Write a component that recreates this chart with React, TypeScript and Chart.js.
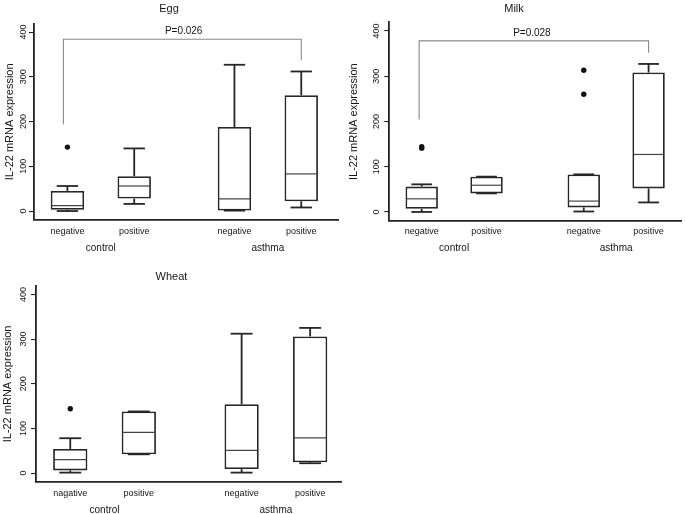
import React, { useEffect, useRef } from 'react';
import { Chart, registerables } from 'chart.js';

Chart.register(...registerables);

// ---------- shared categories / ticks ----------
const POSITIONS = [1, 2, 3.5, 4.5];
const CATEGORY_LABELS = ['negative', 'positive', 'negative', 'positive'];
const WHEAT_CATEGORY_LABELS = ['nagative', 'positive', 'negative', 'positive'];
const GROUP_POSITIONS = [1.5, 4];
const GROUP_LABELS = ['control', 'asthma'];
const Y_TICKS = [0, 100, 200, 300, 400];
const Y_TITLE = 'IL-22 mRNA expression';

// ---------- Egg ----------
const EGG_MIN = [0, 16, 1, 8];
const EGG_Q1 = [3, 28, 1, 22];
const EGG_MEDIAN = [12, 56, 27, 83];
const EGG_Q3 = [45, 78, 188, 259];
const EGG_MAX = [56, 140, 327, 312];
const EGG_OUTLIERS = [{ x: 1, y: 143 }];
const EGG_P_LABEL = 'P=0.026';
const EGG_BRACKET_X = [0.94, 4.5];
const EGG_BRACKET_Y = [194, 384, 337];
const EGG_P_AT = [2.74, 402];

// ---------- Milk ----------
const MILK_MIN = [0, 41, 1, 21];
const MILK_Q1 = [7, 41, 10, 52];
const MILK_MEDIAN = [29, 59, 24, 127];
const MILK_Q3 = [56, 78, 83, 308];
const MILK_MAX = [61, 78, 83, 327];
const MILK_OUTLIERS = [
  { x: 1, y: 141 },
  { x: 1, y: 144 },
  { x: 3.5, y: 260 },
  { x: 3.5, y: 313 },
];
const MILK_P_LABEL = 'P=0.028';
const MILK_BRACKET_X = [0.96, 4.5];
const MILK_BRACKET_Y = [204, 378, 352];
const MILK_P_AT = [2.7, 395];

// ---------- Wheat ----------
const WHEAT_MIN = [1, 42, 1, 22];
const WHEAT_Q1 = [6, 42, 9, 24];
const WHEAT_MEDIAN = [30, 91, 51, 79];
const WHEAT_Q3 = [54, 138, 154, 306];
const WHEAT_MAX = [78, 138, 312, 325];
const WHEAT_OUTLIERS = [{ x: 1, y: 144 }];

// ---------- styles ----------
const FONT = '"Liberation Sans", Arial, Helvetica, sans-serif';
const TEXT = '#151515';
const AXIS = '#222222';
const BOX = '#262626';
const MEDIAN = '#444444';
const BRACKET = '#8a8a8a';
const BOX_HALF = 0.25;
const CAP_HALF = 0.16;
const CANVAS_H = 256;

type Panel = {
  title: string;
  categories: string[];
  min: number[];
  q1: number[];
  median: number[];
  q3: number[];
  max: number[];
  outliers: { x: number; y: number }[];
  bracket?: { xs: number[]; ys: number[]; label: string; at: number[] };
  layout: {
    left: number;
    top: number;
    width: number;
    padRight: number;
    yAxisWidth: number;
    yTickPad: number;
    yTitlePad: number;
    titleTop: number;
    titleBottom: number;
    xPad: number;
    groupPad: number;
    xMax: number;
  };
};

const PANELS: Panel[] = [
  {
    title: 'Egg',
    categories: CATEGORY_LABELS,
    min: EGG_MIN,
    q1: EGG_Q1,
    median: EGG_MEDIAN,
    q3: EGG_Q3,
    max: EGG_MAX,
    outliers: EGG_OUTLIERS,
    bracket: { xs: EGG_BRACKET_X, ys: EGG_BRACKET_Y, label: EGG_P_LABEL, at: EGG_P_AT },
    layout: {
      left: 0, top: 0, width: 345, padRight: 7, yAxisWidth: 34, yTickPad: -2.2, yTitlePad: 3.4,
      titleTop: 2.2, titleBottom: 8.2, xPad: 6.6, groupPad: 2.3, xMax: 5.05,
    },
  },
  {
    title: 'Milk',
    categories: CATEGORY_LABELS,
    min: MILK_MIN,
    q1: MILK_Q1,
    median: MILK_MEDIAN,
    q3: MILK_Q3,
    max: MILK_MAX,
    outliers: MILK_OUTLIERS,
    bracket: { xs: MILK_BRACKET_X, ys: MILK_BRACKET_Y, label: MILK_P_LABEL, at: MILK_P_AT },
    layout: {
      left: 345, top: 1, width: 340, padRight: 2, yAxisWidth: 44.3, yTickPad: 0.2, yTitlePad: 2.1,
      titleTop: 1.4, titleBottom: 6.7, xPad: 5.3, groupPad: 1.6, xMax: 5.0,
    },
  },
  {
    title: 'Wheat',
    categories: WHEAT_CATEGORY_LABELS,
    min: WHEAT_MIN,
    q1: WHEAT_Q1,
    median: WHEAT_MEDIAN,
    q3: WHEAT_Q3,
    max: WHEAT_MAX,
    outliers: WHEAT_OUTLIERS,
    layout: {
      left: 0, top: 261.7, width: 345, padRight: 2, yAxisWidth: 36, yTickPad: -0.4, yTitlePad: 1.7,
      titleTop: 8.0, titleBottom: 2.7, xPad: 6.2, groupPad: 1.9, xMax: 4.95,
    },
  },
];

function makeExtras(p: Panel) {
  return {
    id: 'boxExtras',
    afterDatasetsDraw(chart: any) {
      const { ctx } = chart;
      const x = chart.scales.x;
      const y = chart.scales.y;
      const line = (x1: number, y1: number, x2: number, y2: number) => {
        ctx.beginPath();
        ctx.moveTo(x1, y1);
        ctx.lineTo(x2, y2);
        ctx.stroke();
      };
      ctx.save();
      ctx.lineCap = 'butt';
      POSITIONS.forEach((pos, i) => {
        const cx = x.getPixelForValue(pos);
        const cl = x.getPixelForValue(pos - CAP_HALF);
        const cr = x.getPixelForValue(pos + CAP_HALF);
        ctx.strokeStyle = BOX;
        ctx.lineWidth = 1.8;
        // upper whisker
        line(cx, y.getPixelForValue(p.q3[i]), cx, y.getPixelForValue(p.max[i]));
        line(cl, y.getPixelForValue(p.max[i]), cr, y.getPixelForValue(p.max[i]));
        // lower whisker
        line(cx, y.getPixelForValue(p.q1[i]), cx, y.getPixelForValue(p.min[i]));
        line(cl, y.getPixelForValue(p.min[i]), cr, y.getPixelForValue(p.min[i]));
        // median
        ctx.strokeStyle = MEDIAN;
        ctx.lineWidth = 1.2;
        const bl = x.getPixelForValue(pos - BOX_HALF);
        const br = x.getPixelForValue(pos + BOX_HALF);
        const my = y.getPixelForValue(p.median[i]);
        line(bl + 1, my, br - 1, my);
      });
      if (p.bracket) {
        const b = p.bracket;
        const xl = x.getPixelForValue(b.xs[0]);
        const xr = x.getPixelForValue(b.xs[1]);
        const yTop = y.getPixelForValue(b.ys[1]);
        ctx.strokeStyle = BRACKET;
        ctx.lineWidth = 1.1;
        ctx.beginPath();
        ctx.moveTo(xl, y.getPixelForValue(b.ys[0]));
        ctx.lineTo(xl, yTop);
        ctx.lineTo(xr, yTop);
        ctx.lineTo(xr, y.getPixelForValue(b.ys[2]));
        ctx.stroke();
        ctx.fillStyle = TEXT;
        ctx.font = `10px ${FONT}`;
        ctx.textAlign = 'center';
        ctx.textBaseline = 'middle';
        ctx.fillText(b.label, x.getPixelForValue(b.at[0]), y.getPixelForValue(b.at[1]));
      }
      ctx.restore();
    },
  };
}

function BoxPanel({ p }: { p: Panel }) {
  const ref = useRef<HTMLCanvasElement>(null);
  useEffect(() => {
    const L = p.layout;
    const chart = new Chart(ref.current as HTMLCanvasElement, {
      type: 'bar',
      data: {
        datasets: [
          {
            type: 'bar',
            data: POSITIONS.map((pos, i) => ({ x: pos, y: [p.q1[i], p.q3[i]] })) as any,
            backgroundColor: '#ffffff',
            borderColor: BOX,
            borderWidth: 1.8,
            borderSkipped: false,
            barPercentage: 0.5,
            categoryPercentage: 1,
            order: 1,
          } as any,
          {
            type: 'scatter',
            data: p.outliers,
            pointRadius: 2.7,
            pointBackgroundColor: '#111111',
            pointBorderWidth: 0,
            order: 0,
          } as any,
        ],
      },
      options: {
        animation: false,
        responsive: true,
        maintainAspectRatio: false,
        layout: { padding: { left: 0, right: L.padRight, top: 0, bottom: 0 } },
        plugins: {
          legend: { display: false },
          tooltip: { enabled: false },
          title: {
            display: true,
            text: p.title,
            color: TEXT,
            font: { family: FONT, size: 11, weight: 'normal' },
            padding: { top: L.titleTop, bottom: L.titleBottom },
          },
        },
        scales: {
          x: {
            type: 'linear',
            position: 'bottom',
            min: 0.5,
            max: L.xMax,
            offset: false,
            weight: 0,
            afterBuildTicks: (s: any) => {
              s.ticks = POSITIONS.map((v) => ({ value: v }));
            },
            afterFit: (s: any) => {
              s.height = 20;
            },
            ticks: {
              callback: (_v: any, i: number) => p.categories[i],
              color: TEXT,
              font: { family: FONT, size: 9 },
              padding: L.xPad,
              maxRotation: 0,
              minRotation: 0,
              autoSkip: false,
            },
            grid: { display: false, drawTicks: false, offset: false },
            border: { display: true, color: AXIS, width: 1.8 },
          },
          x2: {
            type: 'linear',
            position: 'bottom',
            min: 0.5,
            max: L.xMax,
            offset: false,
            weight: 1,
            afterBuildTicks: (s: any) => {
              s.ticks = GROUP_POSITIONS.map((v) => ({ value: v }));
            },
            afterFit: (s: any) => {
              s.height = 16;
            },
            ticks: {
              callback: (_v: any, i: number) => GROUP_LABELS[i],
              color: TEXT,
              font: { family: FONT, size: 10 },
              padding: L.groupPad,
              maxRotation: 0,
              minRotation: 0,
              autoSkip: false,
            },
            grid: { display: false, drawTicks: false, offset: false },
            border: { display: false },
          },
          y: {
            type: 'linear',
            min: -20,
            max: 419,
            afterBuildTicks: (s: any) => {
              s.ticks = Y_TICKS.map((v) => ({ value: v }));
            },
            afterFit: (s: any) => {
              s.width = L.yAxisWidth;
            },
            ticks: {
              color: TEXT,
              font: { family: FONT, size: 9 },
              padding: L.yTickPad,
              minRotation: 90,
              maxRotation: 90,
              crossAlign: 'center',
              autoSkip: false,
            },
            grid: {
              display: true,
              drawOnChartArea: false,
              drawTicks: true,
              tickLength: 5,
              color: AXIS,
              lineWidth: 1.1,
            },
            border: { display: true, color: AXIS, width: 1.8 },
            title: {
              display: true,
              text: Y_TITLE,
              color: TEXT,
              font: { family: FONT, size: 11 },
              padding: { top: L.yTitlePad, bottom: 0 },
            },
          },
        } as any,
      },
      plugins: [makeExtras(p)],
    });
    return () => chart.destroy();
  }, [p]);

  const L = p.layout;
  return (
    <div
      style={{
        position: 'absolute',
        left: L.left,
        top: L.top,
        width: L.width,
        height: CANVAS_H,
      }}
    >
      <canvas ref={ref} />
    </div>
  );
}

export default function App() {
  return (
    <div
      style={{
        position: 'absolute',
        left: 0,
        top: 0,
        width: 685,
        height: 514,
        overflow: 'hidden',
        background: '#ffffff',
      }}
    >
      {PANELS.map((p) => (
        <BoxPanel key={p.title} p={p} />
      ))}
    </div>
  );
}
